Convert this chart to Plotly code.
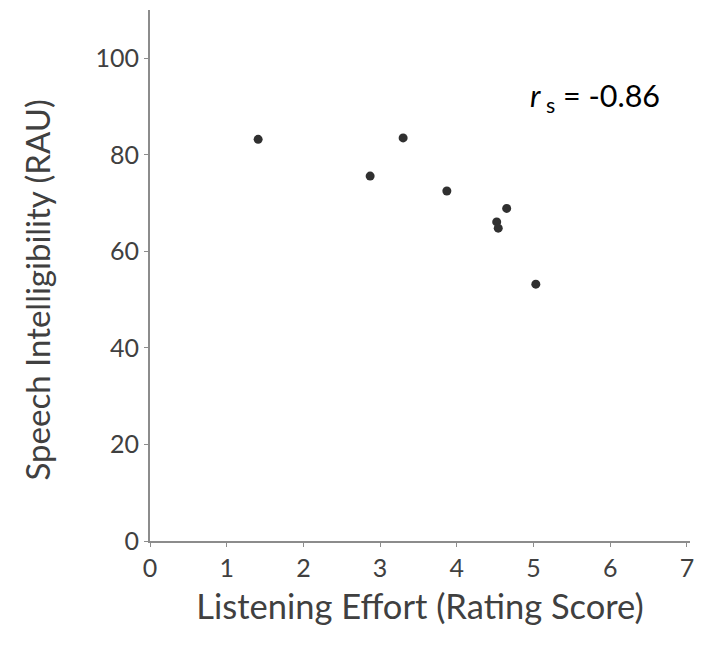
import plotly.graph_objects as go

effort = [1.41, 2.87, 3.30, 3.87, 4.52, 4.54, 4.65, 5.03]
intelligibility = [83.2, 75.6, 83.5, 72.5, 66.1, 64.8, 68.9, 53.2]
x_ticks = [0, 1, 2, 3, 4, 5, 6, 7]
y_ticks = [0, 20, 40, 60, 80, 100]

fig = go.Figure()
fig.add_trace(go.Scatter(
    x=effort, y=intelligibility, mode="markers",
    marker=dict(size=9, color="#303030"),
    showlegend=False, hoverinfo="skip",
))

font_family = "Lato, Open Sans, sans-serif"
axis_common = dict(
    showgrid=False, zeroline=False, showline=True, linecolor="#8c8c8c", linewidth=2,
    ticks="outside", ticklen=4, tickwidth=1, tickcolor="#8c8c8c",
    tickfont=dict(family=font_family, size=25, color="#404040"),
)
fig.update_layout(
    width=696, height=647,
    margin=dict(l=142, r=14, t=2, b=114, autoexpand=False),
    plot_bgcolor="white", paper_bgcolor="white",
    xaxis=dict(range=[0, 7.04], tickvals=x_ticks,
               title=dict(text="Listening Effort (Rating Score)", standoff=14,
                          font=dict(family=font_family, size=34.5, color="#404040")),
               **axis_common),
    yaxis=dict(range=[0, 110], tickvals=y_ticks, **axis_common),
)
fig.add_annotation(
    x=0, y=0.5, xref="paper", yref="paper", showarrow=False,
    xanchor="center", yanchor="middle", xshift=-114, yshift=-15, textangle=-90,
    text="Speech Intelligibility (RAU)",
    font=dict(family=font_family, size=33, color="#404040"),
)
fig.add_annotation(
    x=4.93, y=91.8, xref="x", yref="y", showarrow=False, xanchor="left",
    text="<i>r</i><sub> s</sub> = -0.86",
    font=dict(family=font_family, size=30.5, color="black"),
)
fig.write_html("out.html")
